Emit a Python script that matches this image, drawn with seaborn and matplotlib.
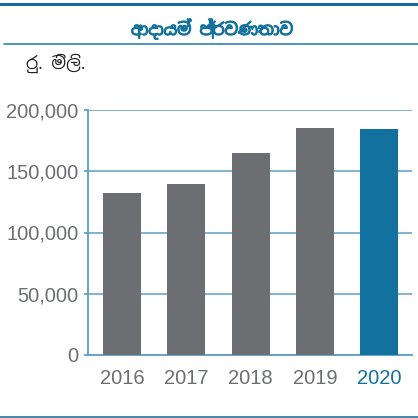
import matplotlib
matplotlib.use("Agg")
import matplotlib.pyplot as plt
import matplotlib.patheffects as pe
from matplotlib import font_manager
from matplotlib.lines import Line2D
import seaborn as sns
import pandas as pd

years = ["2016", "2017", "2018", "2019", "2020"]
revenue = [132000, 139500, 165000, 185000, 184500]  # Rs. Mn.
title = "ආදායම් ප්‍රවණතාව"
unit = "රු. මිලි."

GRAY = "#6d6e71"
BLUE = "#12719f"
LINE = "#5b9fc6"

sns.set_theme(style="white")
plt.rcParams["font.family"] = ["Liberation Sans", "DejaVu Sans"]
# Sinhala needs its own font
sinhala = [f.name for f in font_manager.fontManager.ttflist if "Sinhala" in f.name]
sin_family = sinhala[:1] + ["DejaVu Sans"]

fig = plt.figure(figsize=(4.18, 4.18), dpi=100)
ax = fig.add_axes([88 / 418, 1 - 355 / 418, 324 / 418, 245 / 418])

df = pd.DataFrame({"year": years, "value": revenue})
colors = [GRAY] * (len(years) - 1) + [BLUE]
sns.barplot(data=df, x="year", y="value", hue="year", palette=colors,
            legend=False, width=0.59, saturation=1, linewidth=0, ax=ax, zorder=3)

ax.set_xlim(-0.53, 4.51)
ax.set_ylim(0, 200000)
ax.set_yticks([0, 50000, 100000, 150000, 200000])
ax.set_yticklabels([f"{v:,}" for v in [0, 50000, 100000, 150000, 200000]])
ax.yaxis.grid(True, color=LINE, lw=1.1, zorder=0)
ax.xaxis.grid(False)
ax.set_xlabel("")
ax.set_ylabel("")
for s in ["top", "right"]:
    ax.spines[s].set_visible(False)
for s in ["left", "bottom"]:
    ax.spines[s].set_color(LINE)
    ax.spines[s].set_linewidth(1.3)
ax.tick_params(axis="y", length=3, color=LINE, pad=4, labelsize=14.5, labelcolor=GRAY, left=True)
ax.tick_params(axis="x", length=0, pad=10, labelsize=14.5, labelcolor=GRAY)
ax.get_xticklabels()[-1].set_color(BLUE)

# header and frame lines
fig.add_artist(Line2D([0, 1], [1 - 4 / 418] * 2, color="#1a6b9c", lw=2.2))
fig.add_artist(Line2D([4 / 418, 1], [1 - 44 / 418] * 2, color="#2d82b5", lw=1.2))
fig.add_artist(Line2D([0, 1], [1 - 416.5 / 418] * 2, color="#2a6f96", lw=1.2))
fig.text(212 / 418, 1 - 29 / 418, title, ha="center", va="center", family=sin_family,
         fontsize=12, fontweight="bold", color=BLUE,
         path_effects=[pe.withStroke(linewidth=0.8, foreground=BLUE)])
fig.text(26 / 418, 1 - 63 / 418, unit, ha="left", va="center", family=sin_family,
         fontsize=12.5, style="italic", color="#222222")

fig.savefig("out.png", dpi=100)
